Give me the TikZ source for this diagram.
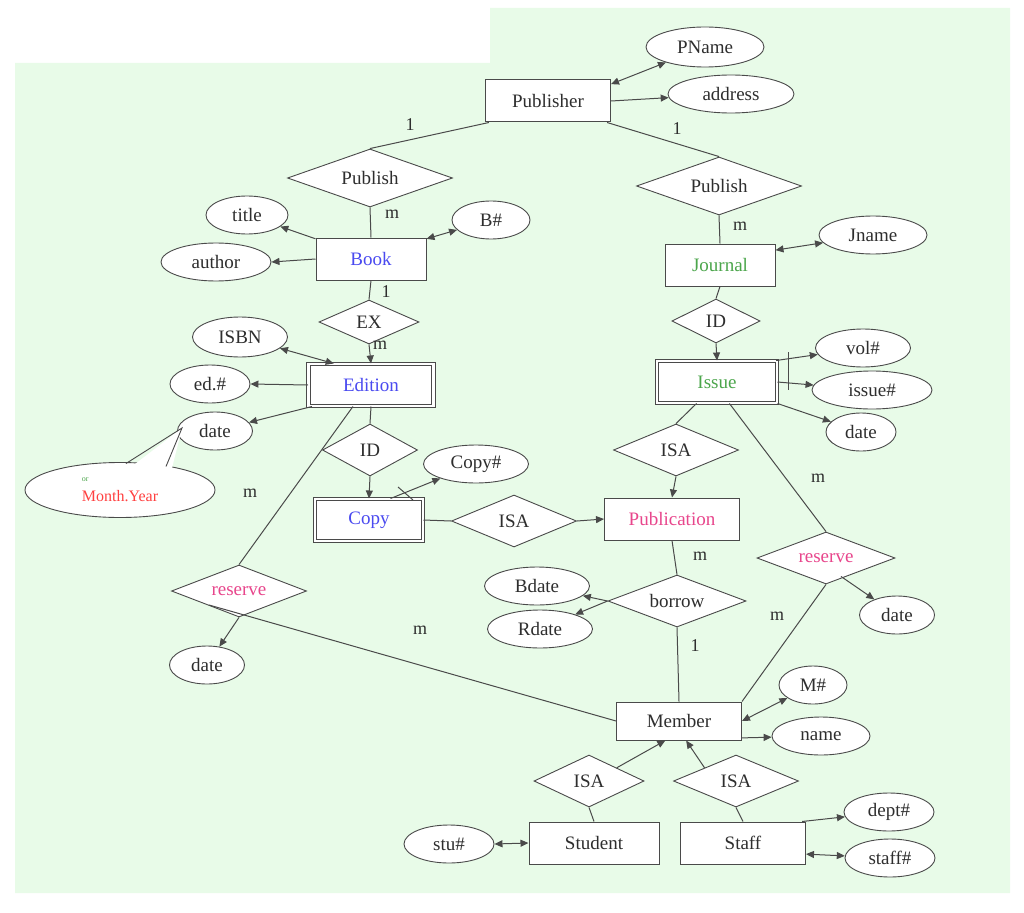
\documentclass[tikz,border=0pt]{standalone}
\usepackage{fontspec}
\setmainfont{Liberation Serif}
\usetikzlibrary{shapes.geometric,arrows.meta}
\definecolor{bg}{HTML}{E8FBE8}
\definecolor{ln}{HTML}{4A4A4A}
\definecolor{tx}{HTML}{2E2E2E}
\definecolor{bl}{HTML}{4A4AF0}
\definecolor{gr}{HTML}{4CA64C}
\definecolor{mg}{HTML}{E8468C}
\begin{document}
\begin{tikzpicture}[x=1pt,y=-1pt,
  every node/.style={font=\fontsize{19}{22}\selectfont,text=tx},
  ent/.style={draw=ln,fill=white,rectangle,inner sep=0,line width=1pt},
  went/.style={ent,double=white,double distance=2.2pt},
  att/.style={draw=ln,fill=white,ellipse,inner sep=0,line width=0.9pt},
  rel/.style={draw=ln,fill=white,diamond,inner sep=0,aspect=2.6,line width=0.9pt},
  lab/.style={font=\fontsize{18}{20}\selectfont,text=tx},
  e/.style={draw=ln,line width=1pt},
  a/.style={e,-{Triangle[length=8pt,width=7pt]}},
  b/.style={e,{Triangle[length=8pt,width=7pt]}-{Triangle[length=8pt,width=7pt]}}]
\useasboundingbox (0,0) rectangle (1024,912);
\fill[bg] (15,63) -- (490,63) -- (490,8) -- (1010,8) -- (1010,893) -- (15,893) -- cycle;

% nodes
\node[ent,minimum width=125,minimum height=42] (Pub) at (548,101) {Publisher};
\node[att,minimum width=118,minimum height=40] (PName) at (705,47) {PName};
\node[att,minimum width=126,minimum height=38] (addr) at (731,94) {address};
\node[rel,minimum width=165,minimum height=58] (P1) at (370,178) {Publish};
\node[rel,minimum width=165,minimum height=58] (P2) at (719,186) {Publish};
\node[att,minimum width=82,minimum height=38] (title) at (247,215) {title};
\node[att,minimum width=110,minimum height=38] (author) at (216,262) {author};
\node[ent,minimum width=110,minimum height=42,text=bl] (Book) at (371,259) {Book};
\node[att,minimum width=78,minimum height=38] (Bn) at (491,220) {B\#};
\node[ent,minimum width=110,minimum height=42,text=gr] (Jour) at (720,265) {Journal};
\node[att,minimum width=108,minimum height=38] (Jname) at (873,235) {Jname};
\node[rel,minimum width=100,minimum height=44] (EX) at (369,322) {EX};
\node[rel,minimum width=88,minimum height=44] (ID2) at (716,321) {ID};
\node[att,minimum width=95,minimum height=40] (ISBN) at (240,337) {ISBN};
\node[att,minimum width=80,minimum height=38] (edn) at (210,384) {ed.\#};
\node[went,minimum width=125,minimum height=42,text=bl] (Ed) at (371,385) {Edition};
\node[att,minimum width=75,minimum height=38] (date1) at (215,431) {date};
\node[went,minimum width=120,minimum height=42,text=gr] (Iss) at (717,382) {Issue};
\node[att,minimum width=95,minimum height=38] (vol) at (863,348) {vol\#};
\node[att,minimum width=120,minimum height=38] (issn) at (872,390) {issue\#};
\node[att,minimum width=70,minimum height=38] (date2) at (861,432) {date};
\node[rel,minimum width=95,minimum height=52] (ID1) at (370,450) {ID};
\node[att,minimum width=105,minimum height=38] (copyn) at (476,464) {Copy\#};
\node[went,minimum width=108,minimum height=42,text=bl] (Copy) at (369,520) {Copy};
\node[rel,minimum width=125,minimum height=52] (ISA1) at (514,521) {ISA};
\node[ent,minimum width=135,minimum height=42,text=mg] (Publ) at (672,519) {Publication};
\node[rel,minimum width=125,minimum height=52] (ISA2) at (676,450) {ISA};
\node[rel,minimum width=135,minimum height=52,text=mg] (resL) at (239,591) {reserve};
\node[att,minimum width=75,minimum height=38] (date3) at (207,665) {date};
\node[rel,minimum width=138,minimum height=52] (bor) at (677,601) {borrow};
\node[att,minimum width=105,minimum height=38] (Bdate) at (537,586) {Bdate};
\node[att,minimum width=105,minimum height=38] (Rdate) at (540,629) {Rdate};
\node[rel,minimum width=138,minimum height=52,text=mg] (resR) at (826,558) {reserve};
\node[att,minimum width=75,minimum height=38] (date4) at (897,615) {date};
\node[ent,minimum width=125,minimum height=38] (Mem) at (679,721) {Member};
\node[att,minimum width=68,minimum height=38] (Mn) at (813,685) {M\#};
\node[att,minimum width=98,minimum height=38] (name) at (821,736) {name};
\node[rel,minimum width=110,minimum height=52] (ISA3) at (589,781) {ISA};
\node[rel,minimum width=125,minimum height=52] (ISA4) at (736,781) {ISA};
\node[ent,minimum width=130,minimum height=42] (Stu) at (594,843) {Student};
\node[ent,minimum width=125,minimum height=42] (Staff) at (743,843) {Staff};
\node[att,minimum width=90,minimum height=38] (stun) at (449,844) {stu\#};
\node[att,minimum width=90,minimum height=38] (dept) at (889,812) {dept\#};
\node[att,minimum width=90,minimum height=38] (staffn) at (890,858) {staff\#};

% callout
\node[att,minimum width=190,minimum height=55,align=left] (call) at (120,490)
  {\fontsize{8}{9}\selectfont\color{gr}or\\[-2pt]\fontsize{16}{18}\selectfont\color{red!75}Month.Year};
\coordinate (tip) at (182,428);
\fill[white] (122,474) -- (tip) -- (170,476) -- cycle;
\draw[e,line width=0.9pt] (126,463.5) -- (tip) -- (166,466.5);

% edges
\draw[e] (Pub.200) -- (P1.north);
\draw[e] (Pub.340) -- (P2.north);
\draw[b] (Pub.15) -- (PName);
\draw[a] (Pub.east) -- (addr);
\draw[e] (P1.south) -- (Book.north);
\draw[a] (Book.160) -- (title);
\draw[a] (Book.west) -- (author.east);
\draw[b] (Book.20) -- (Bn);
\draw[e] (P2.south) -- (Jour.north);
\draw[b] (Jour.15) -- (Jname);
\draw[e] (Book.south) -- (EX.north);
\draw[a] (EX.south) -- (Ed.north);
\draw[e] (Jour.south) -- (ID2.north);
\draw[a] (ID2.south) -- (Iss.north);
\draw[b] (Ed.150) -- (ISBN);
\draw[a] (Ed.west) -- (edn.east);
\draw[a] (Ed.200) -- (date1);
\draw[e] (Ed.south) -- (ID1.north);
\draw[a] (ID1.south) -- (Copy.north);
\draw[a] (Copy.45) -- (copyn);
\draw[e] (398,487) -- (413,500);
\draw[e] (Copy.east) -- (ISA1.west);
\draw[a] (ISA1.east) -- (Publ.west);
\draw[e] (Iss.south west) ++(40,0) -- (ISA2.north);
\draw[a] (ISA2.south) -- (Publ.north);
\coordinate (vb1) at (788,352); \coordinate (vb2) at (788,390);
\draw[e] (vb1) -- (vb2);
\draw[a] (Iss.20) -- (vol);
\draw[a] (Iss.east) -- (issn);
\draw[a] (Iss.south east) -- (date2);
\draw[e] (Iss.-60) -- (resR.north);
\draw[a] (resR.south) ++(15,-8) -- (date4);
\draw[e] (resR.south) -- (Mem.north east);
\draw[e] (Ed.-130) -- (resL.north);
\draw[a] (resL.south) -- (date3);
\draw[e] (resL.west) ++(38,14) -- (Mem.west);
\draw[e] (Publ.south) -- (bor.north);
\draw[a] (bor.west) -- (Bdate);
\draw[a] (bor.west) -- (Rdate);
\draw[e] (bor.south) -- (Mem.north);
\draw[b] (Mem.east) -- (Mn);
\draw[a] (Mem.-15) -- (name);
\draw[a] (ISA3.north east) -- (Mem.-125);
\draw[e] (ISA3.south) -- (Stu.north);
\draw[a] (ISA4.north west) -- (Mem.-70);
\draw[e] (ISA4.south) -- (Staff.north);
\draw[b] (Stu.west) -- (stun.east);
\draw[a] (Staff.20) -- (dept);
\draw[b] (Staff.-10) -- (staffn);

% labels
\node[lab] (l1) at (410,125) {1};
\node[lab] (l2) at (677,129) {1};
\node[lab] (l3) at (392,214) {m};
\node[lab] (l4) at (740,226) {m};
\node[lab] (l5) at (386,292) {1};
\node[lab] (l6) at (380,345) {m};
\node[lab] (l7) at (250,493) {m};
\node[lab] (l8) at (818,478) {m};
\node[lab] (l9) at (700,556) {m};
\node[lab] (l10) at (420,630) {m};
\node[lab] (l11) at (777,616) {m};
\node[lab] (l12) at (695,646) {1};
\end{tikzpicture}
\end{document}
